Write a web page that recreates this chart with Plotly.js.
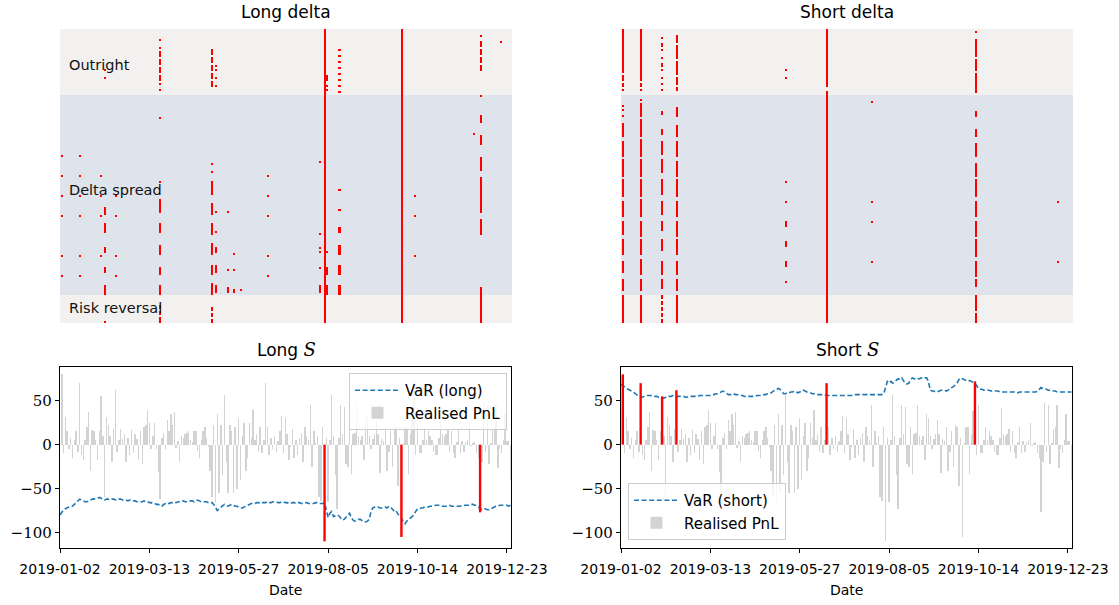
<!DOCTYPE html>
<html><head><meta charset="utf-8">
<script src="https://cdn.plot.ly/plotly-3.0.1.min.js"></script>
<style>html,body{margin:0;padding:0;background:#fff}#chart{width:1119px;height:605px}</style>
</head><body><div id="chart"></div>
<script>
// ---------------- data ----------------
const tickDates = ['2019-01-02','2019-03-13','2019-05-27','2019-08-05','2019-10-14','2019-12-23'];
const tickDays = [0, 50, 100, 150, 200, 250];
const nDays = 253;

const bandNames = ['Outright', 'Delta spread', 'Risk reversal'];
const bandRowCounts = [33, 100, 14];
const bandColors = ['#f2f1ef', '#dfe3eb', '#f2f1ef'];

// realised PnL per trading day (index 0 has none)
const pnl = [null,
  80,-10,32,15,-5,8,-15,5,15,-8,
  70,-12,-18,5,20,37,-30,17,15,5,
  -17,15,55,10,-60,32,22,10,-20,18,
  62,-8,5,18,6,12,-20,8,-12,17,
  -10,12,6,-18,15,-22,20,22,40,25,
  -5,10,25,-5,-31,-62,8,13,-5,28,
  15,35,22,37,-4,4,-20,10,8,12,
  13,15,5,3,15,16,-7,-15,5,15,
  20,8,-3,-30,-60,22,-65,35,-55,22,
  -35,56,-20,-55,22,15,-55,20,-50,30,
  -40,10,25,-30,-15,25,8,40,5,12,
  -8,20,-10,5,70,20,-12,8,-5,10,
  -8,4,15,33,-10,30,12,-18,-3,18,
  -15,5,-12,8,13,-20,20,10,5,45,
  -25,15,2,10,-60,-64,20,-110,8,-65,
  5,56,10,-35,-73,8,45,12,43,-22,
  -25,20,-33,12,13,45,10,5,10,-17,
  35,30,10,-5,6,12,28,12,-32,6,
  4,20,-30,-8,15,-25,22,20,-47,8,
  -105,2,20,20,-33,12,38,72,-12,45,
  -10,-10,5,20,5,15,10,5,-8,-12,
  -12,8,42,12,10,12,18,-8,15,-10,
  -15,3,20,-10,4,-8,3,5,25,-2,
  2,3,-10,-15,-77,-20,47,-8,45,-22,
  2,18,20,45,-27,-5,-10,5,35,4,
  4,-40];

const varLong = [-80,
  -77,-74,-73,-72,-71,-71,-70,-68,-66,-63,
  -62,-63,-64,-65,-65,-64,-63,-62,-62,-61,
  -61,-60,-61,-62,-63,-62,-62,-63,-62,-62,
  -63,-63,-62,-62,-63,-63,-63,-64,-63,-63,
  -64,-64,-65,-65,-65,-65,-64,-65,-65,-66,
  -66,-67,-67,-68,-68,-69,-70,-68,-67,-66,
  -67,-66,-66,-65,-66,-65,-65,-64,-64,-65,
  -65,-65,-64,-64,-65,-64,-63,-64,-65,-65,
  -65,-65,-66,-66,-66,-68,-72,-75,-73,-71,
  -69,-68,-69,-70,-69,-68,-69,-70,-70,-71,
  -72,-72,-71,-70,-69,-68,-67,-67,-67,-66,
  -66,-67,-66,-66,-66,-65,-66,-66,-65,-65,
  -65,-66,-66,-65,-65,-66,-66,-67,-67,-66,
  -66,-67,-66,-66,-67,-67,-66,-66,-67,-67,
  -67,-67,-66,-66,-67,-67,-67,-66,-76,-83,
  -78,-76,-82,-81,-80,-81,-84,-86,-85,-83,
  -80,-78,-83,-86,-87,-86,-85,-85,-87,-88,
  -88,-87,-85,-76,-72,-71,-72,-71,-72,-72,
  -71,-71,-72,-70,-71,-73,-76,-75,-79,-81,
  -83,-88,-90,-87,-85,-84,-82,-80,-76,-73,
  -73,-72,-72,-71,-71,-71,-70,-70,-70,-69,
  -69,-69,-70,-70,-70,-70,-69,-69,-70,-70,
  -70,-70,-70,-70,-69,-69,-69,-69,-69,-68,
  -68,-69,-69,-70,-73,-74,-73,-73,-74,-74,
  -73,-72,-71,-70,-70,-69,-69,-69,-69,-69,
  -70,-69];

const varShort = [69,
  67,65,64,63,62,61,60,58,56,55,
  55,54,55,56,56,56,56,56,55,55,
  54,54,53,53,54,55,55,55,56,56,
  55,55,55,55,55,54,54,55,55,55,
  55,55,55,56,56,56,56,56,56,56,
  57,57,58,58,59,60,61,60,58,57,
  57,57,58,57,57,56,56,56,55,55,
  55,55,55,55,55,56,56,56,57,57,
  57,58,58,59,61,62,63,64,63,60,
  58,58,59,59,60,60,61,60,59,60,
  61,62,61,60,60,59,58,58,57,57,
  57,57,57,57,56,56,56,56,56,56,
  56,56,56,56,56,56,56,56,56,56,
  57,57,57,57,57,57,57,57,57,57,
  57,57,57,57,57,57,58,65,72,70,
  72,70,72,74,75,74,76,73,70,69,
  70,74,76,75,74,75,75,76,75,76,
  76,72,62,61,61,60,60,61,62,62,
  62,61,62,64,65,66,68,70,74,76,
  75,74,73,72,73,72,71,70,67,64,
  63,63,62,62,62,62,61,61,61,61,
  61,60,60,60,60,60,60,60,60,60,
  59,59,60,60,60,60,60,60,60,60,
  60,60,61,63,65,64,63,63,62,62,
  62,61,61,60,60,60,60,60,60,60,
  60,60];

// hedge activity: [trading day, instrument rows]
const longDeltaHits = [
  [1, '63 73 83 93 113 123'],
  [11, '63 73 83 93 113 123'],
  [23, '73 83 93 113'],
  [25, '20 24 89-92 97-101 109-111 119-121 128-132 146'],
  [31, '83 93 113 123'],
  [56, '5 9 11-13 15-17 19-21 23-25 27 30 44 76 85-91 97-101 108-112 119-122 128-132 138-139 141-142 144-146'],
  [85, '10-12 14-16 18-20 22-24 26-28 67 71 76-82 87-92 97-102 107-112 118-122 127-132 139-140 142-143 145-146'],
  [87, '18 20 24 28 91 101 109-111 118-121 128-131'],
  [94, '91 120 129-131'],
  [97, '112 120 130-131'],
  [101, '130'],
  [116, '73 83 93 113 123'],
  [145, '66 102 109 111 119 128-131'],
  [148, '0-146'],
  [149, '23-25 28 30 111 119-122 128-132'],
  [156, '10 13 16 19 22 25 28 31 80 90 99-101 108-112 118-122 128-132'],
  [191, '0-146'],
  [198, '83 93 113'],
  [231, '52'],
  [235, '3 6-8 10-12 14-16 18-20 33 43-46 53-57 64-70 74-91 95-102 129-146'],
  [246, '6']
];
const shortDeltaHits = [
  [1, '0-21 23-25 27-28 30 38 40 43 47-53 56-63 65-73 75-83 86-93 96-102 105-112 116-121 125-130 133-146'],
  [11, '0-25 27-28 30 35 37-43 45-53 55-63 65-73 75-83 85-93 96-103 105-112 115-122 125-130 133-146'],
  [23, '4 7-8 10 14 17-18 20 24 27 30 41-42 50-52 56-62 65-71 75-82 86-92 96-100 105-110 116-122 125-129 133-134 136-137 139-140 142-143 145-146'],
  [31, '3-6 8-14 16-22 24-27 29-30 39-43 48-53 56-63 66-73 75-83 86-93 96-103 105-112 116-122 125-130 133-146'],
  [92, '20 24 76 86 96-98 106-108 116-118 126'],
  [115, '0-28 31-146'],
  [140, '36 86 96 116'],
  [198, '1 5-13 15-20 22-31 41-43 50-53 57-63 67-73 75-83 86-93 96-103 105-113 116-123 125-128 133-140 142-146'],
  [244, '86 116']
];

// ---------------- build ----------------
const SANS = 'DejaVu Sans, sans-serif';
const SERIF = 'DejaVu Serif';
const days = Array.from({length: nDays}, (_, i) => i);
const nRows = bandRowCounts.reduce((a, b) => a + b, 0);
const XR = [0, 252.3];

// each hit run -> one vertical bar spanning those instrument rows
function hitBars(hits, xa, ya) {
  const x = [], base = [], len = [];
  hits.forEach(([d, spec]) => {
    spec.split(' ').forEach(tok => {
      const [a, b] = tok.split('-').map(Number);
      const hi = (b === undefined) ? a : b;
      x.push(d); base.push(a - 0.5); len.push(hi - a + 1);
    });
  });
  return {type: 'bar', x: x, y: len, base: base, width: 1.15, xaxis: xa, yaxis: ya,
    marker: {color: '#ff0000', line: {width: 0}}, hoverinfo: 'skip', showlegend: false};
}

const isLongBreach = days.map(i => pnl[i] !== null && pnl[i] < varLong[i]);
const isShortBreach = days.map(i => pnl[i] !== null && pnl[i] > varShort[i]);

function grayBars(breach, xa, ya, leg) {
  return {type: 'bar', x: days, y: days.map(i => breach[i] ? null : pnl[i]), width: 0.8,
     marker: {color: '#d3d3d3', line: {width: 0}}, name: 'Realised PnL', xaxis: xa, yaxis: ya,
     legend: leg, hoverinfo: 'skip'};
}
// breaches drawn as red vertical segments from 0 to the realised value
function breachLines(breach, xa, ya) {
  const x = [], y = [];
  days.forEach(i => { if (breach[i]) { x.push(i, i, null); y.push(0, pnl[i], null); } });
  return {type: 'scatter', mode: 'lines', x: x, y: y, xaxis: xa, yaxis: ya, showlegend: false,
    line: {color: '#ff0000', width: 2.4}, hoverinfo: 'skip', connectgaps: false};
}
function varTrace(v, name, xa, ya, leg) {
  return {type: 'scatter', mode: 'lines', x: days, y: v, name: name, xaxis: xa, yaxis: ya,
    legend: leg, line: {color: '#1f77b4', width: 1.6, dash: '5px,2.6px'}, hoverinfo: 'skip'};
}

const data = [
  hitBars(longDeltaHits, 'x', 'y'),
  hitBars(shortDeltaHits, 'x2', 'y2'),
  varTrace(varLong, 'VaR (long)', 'x3', 'y3', 'legend'),
  grayBars(isLongBreach, 'x3', 'y3', 'legend'),
  breachLines(isLongBreach, 'x3', 'y3'),
  varTrace(varShort, 'VaR (short)', 'x4', 'y4', 'legend2'),
  grayBars(isShortBreach, 'x4', 'y4', 'legend2'),
  breachLines(isShortBreach, 'x4', 'y4')
];

const W = 1119, H = 605;
const dom = {
  tl: {x: [60 / W, 512 / W], y: [1 - 323 / H, 1 - 29 / H]},
  tr: {x: [621 / W, 1073 / W], y: [1 - 323 / H, 1 - 29 / H]},
  bl: {x: [60 / W, 511 / W], y: [1 - 548 / H, 1 - 367 / H]},
  br: {x: [621 / W, 1072 / W], y: [1 - 548 / H, 1 - 367 / H]}
};

const hiddenX = d => ({domain: d, range: XR, visible: false, fixedrange: true});
const hiddenY = d => ({domain: d, range: [nRows - 0.5, -0.5], visible: false, fixedrange: true});
const dateX = (d, anchor) => ({domain: d, anchor: anchor, range: XR, showline: true, mirror: true,
  linecolor: '#000', linewidth: 1.2, ticks: 'outside', ticklen: 4, tickwidth: 1, tickcolor: '#000',
  tickvals: tickDays, ticktext: tickDates, showgrid: false, zeroline: false,
  tickfont: {family: SANS, size: 14, color: '#000'}, ticklabelstandoff: 4});
const pnlY = (d, anchor) => ({domain: d, anchor: anchor, range: [-117.6, 88.4], showline: true,
  mirror: true, linecolor: '#000', linewidth: 1.2, ticks: 'outside', ticklen: 4, tickwidth: 1,
  tickcolor: '#000', tickvals: [-100, -50, 0, 50], showgrid: false, zeroline: false,
  tickfont: {family: SERIF, size: 15, color: '#000'}});

// background bands from band sizes
const shapes = [];
const annotations = [];
let start = 0;
bandRowCounts.forEach((n, k) => {
  ['x', 'x2'].forEach((xa, j) => {
    const ya = j === 0 ? 'y' : 'y2';
    shapes.push({type: 'rect', layer: 'below', xref: xa + ' domain', yref: ya, x0: 0, x1: 1,
      y0: start - 0.5, y1: start + n - 0.5, fillcolor: bandColors[k], line: {width: 0}});
  });
  annotations.push({xref: 'x domain', yref: 'y', x: 0.015, y: start + (n - 1) / 2, xanchor: 'left',
    yanchor: 'middle', yshift: [-3, 5, 1][k], text: bandNames[k], showarrow: false,
    font: {family: SANS, size: 14.5, color: '#111'}});
  start += n;
});

const sItal = '<span style="font-family:DejaVu Serif;font-style:italic;font-size:18px">S</span>';
const titles = [['Long delta', 286, 12], ['Short delta', 847, 12],
  ['Long ' + sItal, 286, 349], ['Short ' + sItal, 847, 349]];
titles.forEach(([t, x, y]) => annotations.push({xref: 'paper', yref: 'paper', x: x / W, y: 1 - y / H,
  xanchor: 'center', yanchor: 'middle', text: t, showarrow: false,
  font: {family: SANS, size: 17, color: '#000'}}));
// x-axis titles
[['x3', 'Date'], ['x4', 'Date']].forEach(([xa, t]) => annotations.push({xref: xa + ' domain',
  yref: 'paper', x: 0.5, y: 1 - 590 / H, xanchor: 'center', yanchor: 'middle', text: t,
  showarrow: false, font: {family: SANS, size: 14, color: '#000'}}));

const legendBase = {bgcolor: 'rgba(255,255,255,0.8)', bordercolor: '#cccccc', borderwidth: 1,
  font: {family: SANS, size: 15, color: '#000'}, itemwidth: 45, tracegroupgap: 0, traceorder: 'normal'};

const layout = {
  width: W, height: H, margin: {l: 0, r: 0, t: 0, b: 0},
  paper_bgcolor: '#fff', plot_bgcolor: 'rgba(0,0,0,0)',
  barmode: 'overlay', bargap: 0,
  xaxis: hiddenX(dom.tl.x), yaxis: hiddenY(dom.tl.y),
  xaxis2: hiddenX(dom.tr.x), yaxis2: hiddenY(dom.tr.y),
  xaxis3: dateX(dom.bl.x, 'y3'), yaxis3: pnlY(dom.bl.y, 'x3'),
  xaxis4: dateX(dom.br.x, 'y4'), yaxis4: pnlY(dom.br.y, 'x4'),
  shapes: shapes, annotations: annotations,
  legend: Object.assign({x: 507 / W, y: 1 - 373 / H, xanchor: 'right', yanchor: 'top'}, legendBase),
  legend2: Object.assign({x: 628 / W, y: 1 - 483 / H, xanchor: 'left', yanchor: 'top'}, legendBase),
  showlegend: true
};

Plotly.newPlot('chart', data, layout, {staticPlot: true, displayModeBar: false});
</script>
</body></html>
